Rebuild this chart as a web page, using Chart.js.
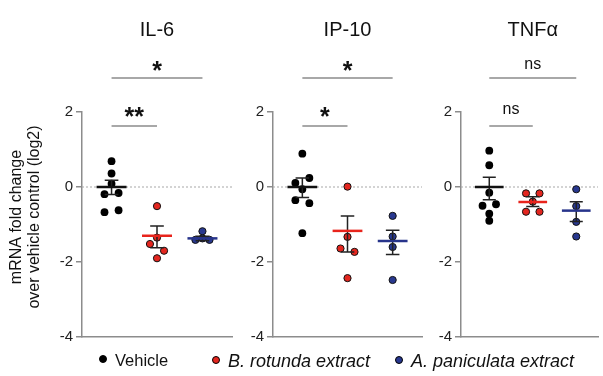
<!DOCTYPE html>
<html>
<head>
<meta charset="utf-8">
<script src="https://cdn.jsdelivr.net/npm/chart.js@4"></script>
<style>
  html, body { margin: 0; padding: 0; background: #fff; }
  #wrap { position: relative; width: 603px; height: 376px; font-family: "Liberation Sans", Arial, sans-serif; }
  #wrap canvas { position: absolute; top: 0; }
  .legend-item { position: absolute; top: 351px; font-size: 16.5px; color: #111; white-space: nowrap; }
  .legend-item i { font-style: italic; font-size: 18px; }
  .dot { display: inline-block; width: 6px; height: 6px; border-radius: 50%; border: 1px solid #000; margin-right: 8px; position: relative; top: -3px; }
</style>
</head>
<body>
<div id="wrap">
  <canvas id="panel-il6" width="240" height="376" style="left:0px"></canvas>
  <canvas id="panel-ip10" width="190" height="376" style="left:240px"></canvas>
  <canvas id="panel-tnf" width="173" height="376" style="left:430px"></canvas>
  <div class="legend-item" style="left:99px"><span class="dot" style="background:#000"></span>Vehicle</div>
  <div class="legend-item" style="left:212px"><span class="dot" style="background:#e3261f"></span><i>B. rotunda extract</i></div>
  <div class="legend-item" style="left:395px"><span class="dot" style="background:#28388f"></span><i>A. paniculata extract</i></div>
</div>
<script>
// groups / columns
const groups = ['Vehicle', 'B. rotunda extract', 'A. paniculata extract'];
const yTicks = [-4, -2, 0, 2];

// IL-6 (log2 fold change)
const il6Vehicle = [0.69, 0.36, 0.09, -0.19, -0.16, -0.67, -0.62];
const il6Rotunda = [-0.51, -1.52, -1.35, -1.70, -1.90];
const il6Paniculata = [-1.18, -1.41, -1.37, -1.41];
const il6Mean = [0, -1.30, -1.37];
const il6Upper = [0.18, -1.04, -1.31];
const il6Lower = [-0.20, -1.62, -1.43];
const il6Sig = ['**', '*']; // vehicle vs rotunda, vehicle vs paniculata

// IP-10
const ip10Vehicle = [0.89, 0.11, -0.06, 0.24, -0.35, -0.43, -1.23];
const ip10Rotunda = [0.01, -1.33, -1.64, -1.73, -2.43];
const ip10Paniculata = [-0.77, -1.32, -1.60, -2.48];
const ip10Mean = [0, -1.17, -1.44];
const ip10Upper = [0.24, -0.77, -1.15];
const ip10Lower = [-0.28, -1.73, -1.80];
const ip10Sig = ['*', '*'];

// TNFa
const tnfVehicle = [0.97, 0.58, -0.15, -0.50, -0.46, -0.71, -0.90];
const tnfRotunda = [-0.17, -0.17, -0.39, -0.66, -0.66];
const tnfPaniculata = [-0.06, -0.51, -0.93, -1.32];
const tnfMean = [0, -0.40, -0.63];
const tnfUpper = [0.26, -0.26, -0.39];
const tnfLower = [-0.34, -0.52, -0.92];
const tnfSig = ['ns', 'ns'];

const FONT = '"Liberation Sans", Arial, sans-serif';
const fills = ['#000000', '#e3261f', '#28388f'];
const meanColors = ['#111111', '#e8241c', '#27348b'];
const axisColor = '#8c8c8c';
const LANE = 0.155;  // horizontal step between side-by-side dots
const CLOSE = 0.185; // values closer than this share a row

// spread close values sideways, roughly like Prism's column scatter
function lanesFor(values) {
  const order = values.map((v, i) => i).sort((a, b) => values[b] - values[a]);
  const rows = [];
  let cur = [order[0]];
  for (let k = 1; k < order.length; k++) {
    const i = order[k];
    if (values[cur[cur.length - 1]] - values[i] < CLOSE) cur.push(i);
    else { rows.push(cur); cur = [i]; }
  }
  rows.push(cur);
  const lanes = new Array(values.length).fill(0);
  rows.forEach(row => {
    row.sort((a, b) => a - b);
    const n = row.length;
    const slots = n === 2 ? [-1, 1] : row.map((_, j) => j - (n - 1) / 2);
    row.forEach((i, j) => { lanes[i] = slots[j]; });
  });
  return lanes;
}

const decorPlugin = {
  id: 'decor',
  beforeDatasetsDraw(chart) {
    const { ctx, chartArea, scales: { y } } = chart;
    const y0 = y.getPixelForValue(0);
    ctx.save();
    ctx.strokeStyle = '#a8a8a8';
    ctx.lineWidth = 1;
    ctx.setLineDash([2, 2]);
    ctx.beginPath();
    ctx.moveTo(chartArea.left, y0);
    ctx.lineTo(chartArea.right, y0);
    ctx.stroke();
    ctx.restore();
  },
  afterDatasetsDraw(chart, args, opts) {
    const { ctx, scales: { x, y } } = chart;
    ctx.save();
    // mean and SEM
    opts.mean.forEach((m, c) => {
      const col = c + 1;
      const px = x.getPixelForValue(col);
      const top = y.getPixelForValue(opts.upper[c]);
      const bot = y.getPixelForValue(opts.lower[c]);
      const cap = x.getPixelForValue(col + 0.15) - px;
      ctx.strokeStyle = '#222';
      ctx.lineWidth = 1.5;
      ctx.beginPath();
      ctx.moveTo(px, top); ctx.lineTo(px, bot);
      ctx.moveTo(px - cap, top); ctx.lineTo(px + cap, top);
      ctx.moveTo(px - cap, bot); ctx.lineTo(px + cap, bot);
      ctx.stroke();
      const my = y.getPixelForValue(m);
      ctx.strokeStyle = meanColors[c];
      ctx.lineWidth = 2.5;
      ctx.beginPath();
      ctx.moveTo(x.getPixelForValue(col - 0.33), my);
      ctx.lineTo(x.getPixelForValue(col + 0.33), my);
      ctx.stroke();
    });
    ctx.restore();
  },
  afterDraw(chart, args, opts) {
    const { ctx, scales: { x } } = chart;
    ctx.save();
    ctx.fillStyle = '#111';
    ctx.textAlign = 'center';
    // panel title
    ctx.font = '20px ' + FONT;
    ctx.textBaseline = 'middle';
    ctx.fillText(opts.title, x.getPixelForValue(2), 30);

    // significance brackets
    const x1 = x.getPixelForValue(1), x2 = x.getPixelForValue(2), x3 = x.getPixelForValue(3);
    ctx.strokeStyle = axisColor;
    ctx.lineWidth = 1.5;
    ctx.beginPath();
    ctx.moveTo(x1, 126); ctx.lineTo(x2, 126);
    ctx.moveTo(x1, 78); ctx.lineTo(x3, 78);
    ctx.stroke();
    const mark = (txt, cx, starY, nsY) => {
      ctx.textBaseline = 'alphabetic';
      if (txt === 'ns') {
        ctx.font = '16px ' + FONT;
        ctx.fillText(txt, cx, nsY);
      } else {
        ctx.font = 'bold 25px ' + FONT;
        ctx.fillText(txt, cx, starY);
      }
    };
    mark(opts.sig[0], (x1 + x2) / 2, 125, 114);
    mark(opts.sig[1], x2, 79, 69);

    // y axis title, first panel only
    if (opts.yTitle) {
      ctx.font = '16px ' + FONT;
      ctx.textBaseline = 'middle';
      ctx.translate(0, 217);
      ctx.rotate(-Math.PI / 2);
      ctx.fillText(opts.yTitle[0], 0, 17);
      ctx.fillText(opts.yTitle[1], 0, 35);
    }
    ctx.restore();
  }
};

function makePanel(id, title, series, mean, upper, lower, sig, pad, xMax, yTitle) {
  const datasets = series.map((vals, c) => {
    const lanes = lanesFor(vals);
    return {
      label: groups[c],
      data: vals.map((v, i) => ({ x: c + 1 + lanes[i] * LANE, y: v })),
      backgroundColor: fills[c],
      borderColor: c === 0 ? fills[c] : '#111',
      borderWidth: c === 0 ? 0 : 1,
      pointRadius: c === 0 ? 3.9 : 3.6,
      pointHoverRadius: 4
    };
  });
  return new Chart(document.getElementById(id), {
    type: 'scatter',
    data: { datasets },
    options: {
      responsive: false,
      animation: false,
      events: [],
      devicePixelRatio: 1,
      layout: { padding: { left: pad[0], right: pad[1], top: 112, bottom: 39 } },
      scales: {
        x: {
          type: 'linear', min: 0.35, max: xMax,
          ticks: { display: false },
          grid: { display: false },
          border: { display: true, color: axisColor, width: 1.5 },
          afterFit: s => { s.height = 0; }
        },
        y: {
          min: -4, max: 2,
          afterBuildTicks: s => { s.ticks = yTicks.map(v => ({ value: v })); },
          ticks: { color: '#222', padding: 3, font: { size: 15, family: FONT } },
          grid: { drawOnChartArea: false, drawTicks: true, tickLength: 6, color: axisColor, lineWidth: 1.5 },
          border: { display: true, color: axisColor, width: 1.5 },
          afterFit: s => { s.width = 30; }
        }
      },
      plugins: {
        legend: { display: false },
        tooltip: { enabled: false },
        decor: { title, sig, mean, upper, lower, yTitle }
      }
    },
    plugins: [decorPlugin]
  });
}

makePanel('panel-il6', 'IL-6', [il6Vehicle, il6Rotunda, il6Paniculata],
  il6Mean, il6Upper, il6Lower, il6Sig, [52, 8], 3.65,
  ['mRNA fold change', 'over vehicle control (log2)']);
makePanel('panel-ip10', 'IP-10', [ip10Vehicle, ip10Rotunda, ip10Paniculata],
  ip10Mean, ip10Upper, ip10Lower, ip10Sig, [3, 8], 3.65, null);
makePanel('panel-tnf', 'TNFα', [tnfVehicle, tnfRotunda, tnfPaniculata],
  tnfMean, tnfUpper, tnfLower, tnfSig, [1, 0], 3.5, null);
</script>
</body>
</html>
